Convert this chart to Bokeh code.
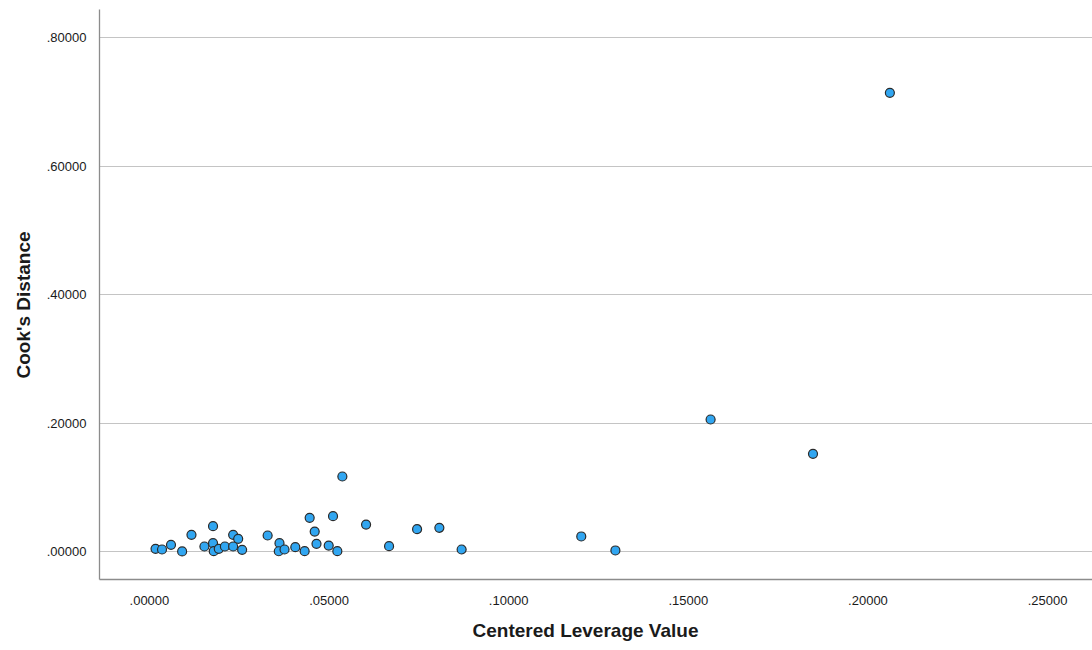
from bokeh.plotting import figure
from bokeh.models import FixedTicker, CustomJSTickFormatter, Range1d, ColumnDataSource, Title
from bokeh.embed import file_html
from bokeh.resources import INLINE

# Regression diagnostics: centered leverage vs. Cook's distance per case
leverage = [
    0.0017, 0.0035, 0.0060, 0.0091, 0.0117, 0.0177, 0.0153, 0.0177, 0.0179,
    0.0193, 0.0210, 0.0233, 0.0247, 0.0233, 0.0258, 0.0329, 0.0362, 0.0360,
    0.0376, 0.0406, 0.0432, 0.0446, 0.0460, 0.0465, 0.0499, 0.0511, 0.0523,
    0.0537, 0.0603, 0.0667, 0.0745, 0.0807, 0.0869, 0.1202, 0.1297, 0.1562,
    0.1847, 0.2061,
]
cooks_d = [
    0.0042, 0.0031, 0.0104, 0.0002, 0.0260, 0.0394, 0.0078, 0.0129, 0.0005,
    0.0042, 0.0078, 0.0260, 0.0198, 0.0078, 0.0026, 0.0249, 0.0129, 0.0004,
    0.0031, 0.0067, 0.0005, 0.0525, 0.0311, 0.0120, 0.0093, 0.0550, 0.0005,
    0.1168, 0.0420, 0.0083, 0.0347, 0.0369, 0.0031, 0.0234, 0.0016, 0.2056,
    0.1522, 0.7144,
]

x_ticks = [0.0, 0.05, 0.10, 0.15, 0.20, 0.25]
y_ticks = [0.0, 0.2, 0.4, 0.6, 0.8]
x_title = "Centered Leverage Value"
y_title = "Cook's Distance"

src = ColumnDataSource(dict(x=leverage, y=cooks_d))

p = figure(
    width=1092, height=650,
    output_backend="svg", toolbar_location=None,
    x_range=Range1d(-0.0139, 0.2625), y_range=Range1d(-0.0436, 0.8441),
    min_border_left=99, min_border_right=0, min_border_top=9, min_border_bottom=71,
)
p.outline_line_color = None
p.background_fill_color = "white"
p.border_fill_color = "white"

p.scatter("x", "y", source=src, size=9, marker="circle",
          fill_color="#31A6F1", line_color="#2b2b2b", line_width=1.2)

fmt = CustomJSTickFormatter(code="return tick.toFixed(5).replace(/^0/, '');")

for ax, ticks in ((p.xaxis[0], x_ticks), (p.yaxis[0], y_ticks)):
    ax.ticker = FixedTicker(ticks=ticks)
    ax.formatter = fmt
    ax.major_tick_line_color = None
    ax.minor_tick_line_color = None
    ax.axis_line_color = "#8c8c8c"
    ax.axis_line_width = 1.3
    ax.major_label_text_font = "Liberation Sans"
    ax.major_label_text_font_size = "13px"
    ax.major_label_text_color = "#1a1a1a"

p.xaxis.major_label_standoff = 10
p.yaxis.major_label_standoff = 7

# Axis titles as side titles, positioned along the axis by an offset
title_style = dict(text_font="Liberation Sans", text_font_style="bold",
                   text_font_size="19px", text_color="#1a1a1a", align="left")
p.add_layout(Title(text=x_title, offset=373, standoff=20, **title_style), "below")
p.add_layout(Title(text=y_title, offset=201, standoff=19, **title_style), "left")

p.xgrid.grid_line_color = None
p.ygrid.grid_line_color = "#c4c4c4"
p.ygrid.grid_line_width = 1.2

open("out.html", "w").write(file_html(p, INLINE))
